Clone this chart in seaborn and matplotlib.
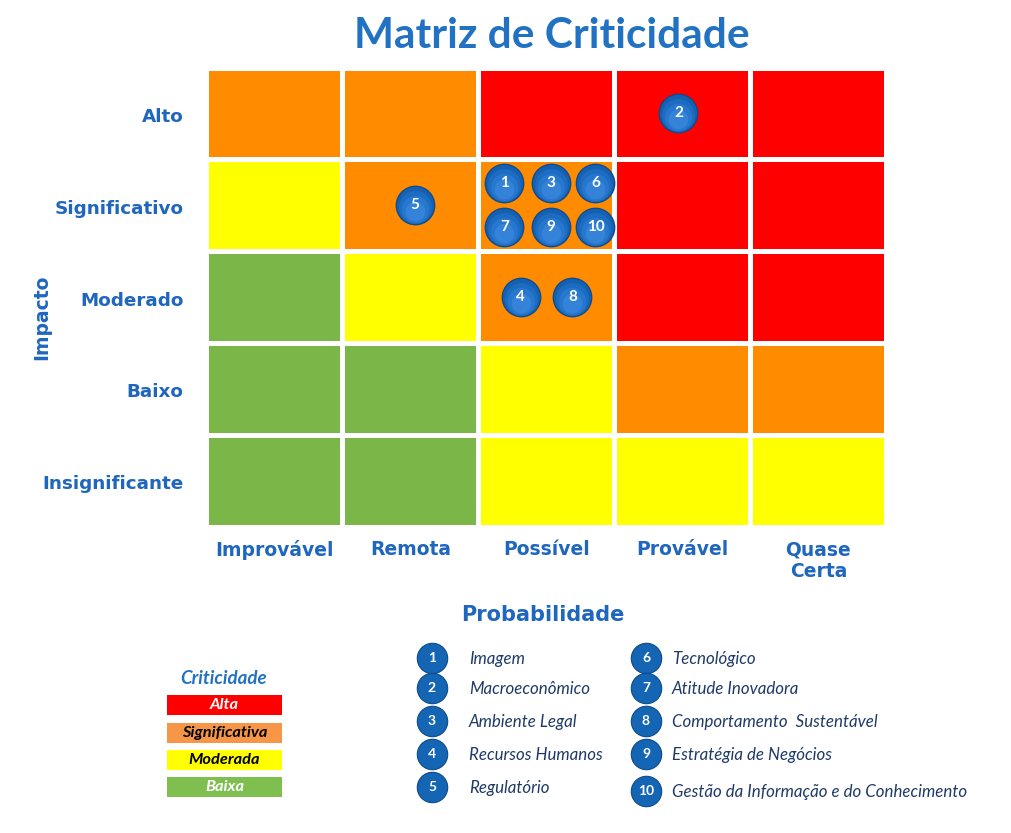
import numpy as np
import pandas as pd
import matplotlib
matplotlib.use("Agg")
import matplotlib.pyplot as plt
from matplotlib.colors import ListedColormap
from matplotlib.patches import Rectangle
import seaborn as sns

# ---------------- data ----------------
impacto = ["Alto", "Significativo", "Moderado", "Baixo", "Insignificante"]
probabilidade = ["Improvável", "Remota", "Possível", "Provável", "Quase\nCerta"]
# criticidade level: 0=Baixa, 1=Moderada, 2=Significativa, 3=Alta
nivel_alto = [2, 2, 3, 3, 3]
nivel_significativo = [1, 2, 2, 3, 3]
nivel_moderado = [0, 1, 2, 3, 3]
nivel_baixo = [0, 0, 1, 2, 2]
nivel_insignificante = [0, 0, 1, 1, 1]

riscos_id = [1, 2, 3, 4, 5, 6, 7, 8, 9, 10]
riscos_nome = ["Imagem", "Macroeconômico", "Ambiente Legal", "Recursos Humanos",
               "Regulatório", "Tecnológico", "Atitude Inovadora",
               "Comportamento  Sustentável", "Estratégia de Negócios",
               "Gestão da Informação e do Conhecimento"]
# position of each risk in the matrix (column index + offset within cell, row index + offset)
riscos_prob = [2.19, 3.47, 2.53, 2.31, 1.53, 2.86, 2.19, 2.69, 2.53, 2.86]
riscos_imp = [1.26, 0.50, 1.26, 2.50, 1.50, 1.26, 1.74, 2.50, 1.74, 1.74]

criticidade = ["Alta", "Significativa", "Moderada", "Baixa"]

# ---------------- style ----------------
sns.set_theme(style="white")
plt.rcParams["font.family"] = ["DejaVu Sans"]

W, H = 1012, 833
fig = plt.figure(figsize=(W / 100, H / 100), dpi=100)

BLUE = "#1F66BF"
NAVY = "#1F3A68"
cell_colors = ["#7AB648", "#FFFF00", "#FF8C00", "#FF0000"]
cmap = ListedColormap(cell_colors)

matriz = pd.DataFrame([nivel_alto, nivel_significativo, nivel_moderado,
                       nivel_baixo, nivel_insignificante],
                      index=impacto, columns=probabilidade)

def fx(px):
    return px / W

def fy(py):
    return 1 - py / H

L, R, T, B = 206.5, 886.5, 67.5, 526.5
ax = fig.add_axes([fx(L), fy(B), fx(R) - fx(L), fy(T) - fy(B)])
sns.heatmap(matriz, ax=ax, cmap=cmap, vmin=-0.5, vmax=3.5, cbar=False,
            linewidths=3.6, linecolor="white", square=False)
ax.set_xticks([])
ax.set_yticks([])
ax.set_xlabel("")
ax.set_ylabel("")
for s in ax.spines.values():
    s.set_visible(False)

# row labels and column labels
for i, lab in enumerate(impacto):
    ax.text(-0.17, i + 0.54, lab, ha="right", va="center", fontsize=13.2,
            fontweight="bold", color=BLUE)
for j, lab in enumerate(probabilidade):
    ax.text(j + 0.5, 5.15, lab, ha="center", va="top", fontsize=13.5,
            fontweight="bold", color=BLUE, linespacing=1.15)

# risk bubbles (layered for a glossy look)
px_ = np.array(riscos_prob)
py_ = np.array(riscos_imp)
layers = [(820, "#0D4A8C", 1.0, 0.0), (720, "#1560B0", 1.0, 0.0),
          (560, "#1C6CC2", 1.0, 0.02), (380, "#2A7BD2", 0.8, 0.04),
          (200, "#3D8CE0", 0.6, 0.06)]
for s_, col, a_, dy in layers:
    ax.scatter(px_, py_ + dy, s=s_, color=col, alpha=a_, linewidth=0,
               zorder=5, clip_on=False)
for rid, xp, yp in zip(riscos_id, riscos_prob, riscos_imp):
    ax.text(xp, yp, str(rid), ha="center", va="center", fontsize=11,
            fontweight="bold", color="white", zorder=7,
            family=["Lato", "DejaVu Sans"])

# overlay for titles and legends (pixel coordinates)
ov = fig.add_axes([0, 0, 1, 1])
ov.set_xlim(0, W)
ov.set_ylim(H, 0)
ov.axis("off")
ov.patch.set_alpha(0)

ov.text(552, 36, "Matriz de Criticidade", ha="center", va="center",
        fontsize=30.5, fontweight="bold", color="#2272C3",
        family=["Lato", "DejaVu Sans"])
ov.text(42, 317, "Impacto", ha="center", va="center", rotation=90,
        fontsize=13.5, fontweight="bold", color=BLUE)
ov.text(543, 615, "Probabilidade", ha="center", va="center",
        fontsize=15, fontweight="bold", color=BLUE)

# criticidade legend
ov.text(224, 678, "Criticidade", ha="center", va="center", fontsize=13.5,
        fontweight="bold", style="italic", color="#2272C3",
        family=["Lato", "DejaVu Sans"])
leg_colors = ["#FF0000", "#F79646", "#FFFF00", "#7FBF4F"]
leg_text_colors = ["white", "black", "black", "white"]
leg_tops = [695, 723, 750, 777]
for name, c, tc, top in zip(criticidade, leg_colors, leg_text_colors, leg_tops):
    ov.add_patch(Rectangle((167, top), 115, 20, facecolor=c, edgecolor="none"))
    ov.text(224.5, top + 10, name, ha="center", va="center", fontsize=11.8,
            fontweight="bold", style="italic", color=tc,
            family=["Lato", "DejaVu Sans"])

# numbered legend
col_x = [432, 646]
text_x = [469, 672]
rows_y = [[658, 688, 721, 754, 787], [658, 688, 721, 754, 791]]
for k, (rid, nome) in enumerate(zip(riscos_id, riscos_nome)):
    c = k // 5
    r = k % 5
    bx, by = col_x[c], rows_y[c][r]
    ov.scatter([bx], [by], s=480, color="#1565B5", edgecolor="#0E4A8A",
               linewidth=0.8, zorder=5)
    ov.text(bx, by, str(rid), ha="center", va="center", fontsize=10,
            fontweight="bold", color="white", zorder=6,
            family=["Lato", "DejaVu Sans"])
    ov.text(text_x[c], by + 1, nome, ha="left", va="center", fontsize=12.2,
            style="italic", color=NAVY, family=["Lato", "DejaVu Sans"])

fig.savefig("out.png", dpi=100)
